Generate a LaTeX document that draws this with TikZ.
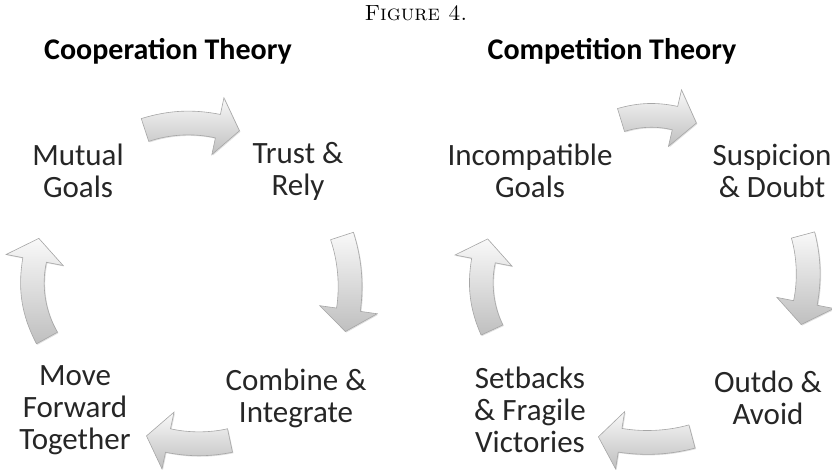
\documentclass[tikz,border=0pt]{standalone}
\usepackage{fontspec}
\newfontfamily\calibri{Carlito}
\usetikzlibrary{calc,shadows}

\tikzset{
  stage/.style={font=\calibri\fontsize{31}{32}\selectfont, align=center, text=black!85},
  heading/.style={font=\calibri\bfseries\fontsize{30}{32}\selectfont},
  blockarrow/.style={top color=gray!5, bottom color=gray!50, draw=gray!70, line width=0.6pt,
    drop shadow={opacity=0.25, shadow xshift=1pt, shadow yshift=-1pt}}
}

% curved block arrow: tail centre, direction, length, bend
\newcommand{\cyclearrow}[4]{%
  \begin{scope}[shift={(#1)}, rotate=#2]
    \pgfmathsetmacro{\bendc}{#3/3*tan(#4)}
    \path[blockarrow] (90+#4:12) .. controls (#3/3,\bendc+12) and (2*#3/3,\bendc+12) .. ($(#3,0)+(90-#4:12)$)
      -- ($(#3,0)+(90-#4:29)$) -- ($(#3,0)+(-#4:22)$) -- ($(#3,0)+(-90-#4:29)$)
      -- ($(#3,0)+(-90-#4:12)$) .. controls (2*#3/3,\bendc-12) and (#3/3,\bendc-12) .. (-90+#4:12) -- cycle;
  \end{scope}}

\begin{document}
\begin{tikzpicture}[x=1pt,y=1pt]
\useasboundingbox (0,0) rectangle (832,471);

\node (fig) at (416,458) {\fontsize{22}{26}\selectfont\textsc{Figure 4.}};
\node[heading] (coop) at (168,420) {Cooperation Theory};
\node[heading] (comp) at (612,420) {Competition Theory};

% cooperation
\node[stage] (mutual) at (78,300) {Mutual\\Goals};
\node[stage] (trust) at (298,300) {Trust \&\\Rely};
\node[stage] (combine) at (296,73) {Combine \&\\Integrate};
\node[stage] (move) at (75,61) {Move\\Forward\\Together};

\cyclearrow{145,341}{3}{73}{15}
\cyclearrow{342,235}{-85}{74}{13}
\cyclearrow{230,30.5}{180}{62}{12}
\cyclearrow{47,133}{99}{79}{20}

% competition
\node[stage] (incomp) at (530,300) {Incompatible\\Goals};
\node[stage] (suspicion) at (772,300) {Suspicion\\\& Doubt};
\node[stage] (outdo) at (768,73) {Outdo \&\\Avoid};
\node[stage] (setbacks) at (530,61) {Setbacks\\\& Fragile\\Victories};

\cyclearrow{621,351}{2}{54}{15}
\cyclearrow{803,236}{-88}{68}{13}
\cyclearrow{692,34.5}{183}{72}{12}
\cyclearrow{492,141}{97}{70}{18}
\end{tikzpicture}
\end{document}
